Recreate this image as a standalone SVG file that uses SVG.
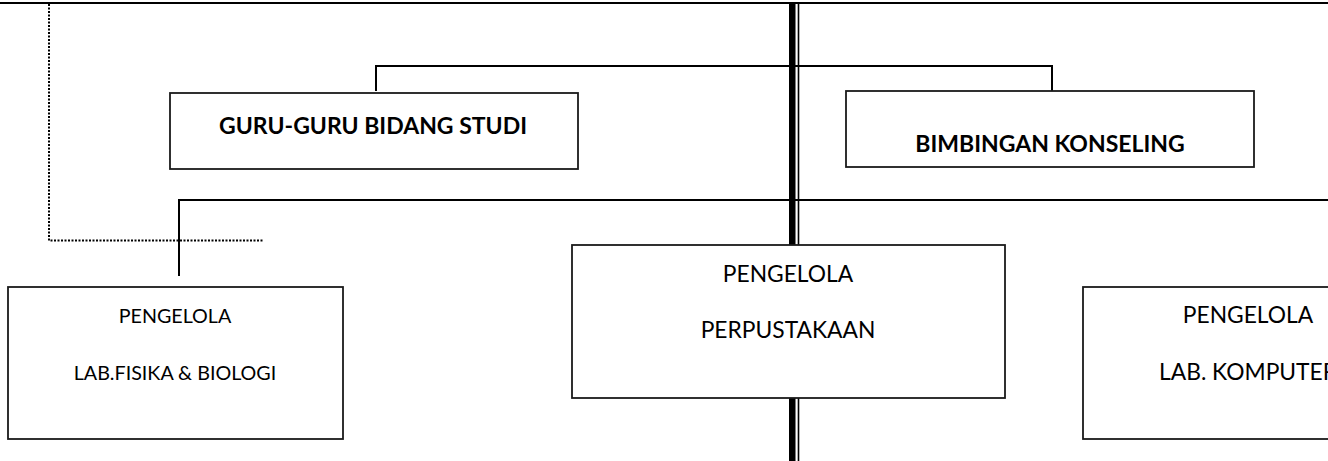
<svg xmlns="http://www.w3.org/2000/svg" width="1328" height="461" viewBox="0 0 1328 461">
<style>
.ln{stroke:#000;stroke-width:2;fill:none}
.box{fill:#fff;stroke:#1a1a1a;stroke-width:1.8}
.t{font-family:Lato,"Liberation Sans",sans-serif;font-size:19.7px;fill:#000;text-anchor:middle}
.tl{font-family:Lato,"Liberation Sans",sans-serif;font-size:22.8px;fill:#000;text-anchor:middle}
.b{font-family:Lato,"Liberation Sans",sans-serif;font-size:23px;font-weight:bold;fill:#000;text-anchor:middle}
.dot{stroke:#000;stroke-width:2;stroke-dasharray:2 1.5;fill:none}
</style>
<rect width="1328" height="461" fill="#fff"/>
<g id="connectors">
<line class="ln" x1="0" y1="3" x2="1328" y2="3"/>
<polyline class="dot" points="49,4 49,240.5 263,240.5"/>
<rect x="789" y="3" width="6.5" height="458" fill="#000"/>
<line x1="798.5" y1="3" x2="798.5" y2="461" stroke="#000" stroke-width="1.6"/>
<polyline class="ln" points="376,91 376,66 1052,66 1052,91"/>
<polyline class="ln" points="179,276 179,200 1328,200"/>
</g>
<g id="guru">
<rect class="box" x="170" y="93" width="408" height="76"/>
<text class="b" x="373" y="134">GURU-GURU BIDANG STUDI</text>
</g>
<g id="bk">
<rect class="box" x="846" y="91" width="408" height="76"/>
<text class="b" x="1050" y="152">BIMBINGAN KONSELING</text>
</g>
<g id="lab-fisika">
<rect class="box" x="8" y="287" width="335" height="152"/>
<text class="t" x="175" y="323">PENGELOLA</text>
<text class="t" x="175" y="380">LAB.FISIKA &amp; BIOLOGI</text>
</g>
<g id="perpustakaan">
<rect class="box" x="572" y="245" width="433" height="153"/>
<text class="tl" x="788" y="282">PENGELOLA</text>
<text class="tl" x="788" y="338">PERPUSTAKAAN</text>
</g>
<g id="lab-komputer">
<rect class="box" x="1083" y="287" width="260" height="152"/>
<text class="tl" x="1248" y="323">PENGELOLA</text>
<text class="tl" x="1248" y="380">LAB. KOMPUTER</text>
</g>
</svg>
